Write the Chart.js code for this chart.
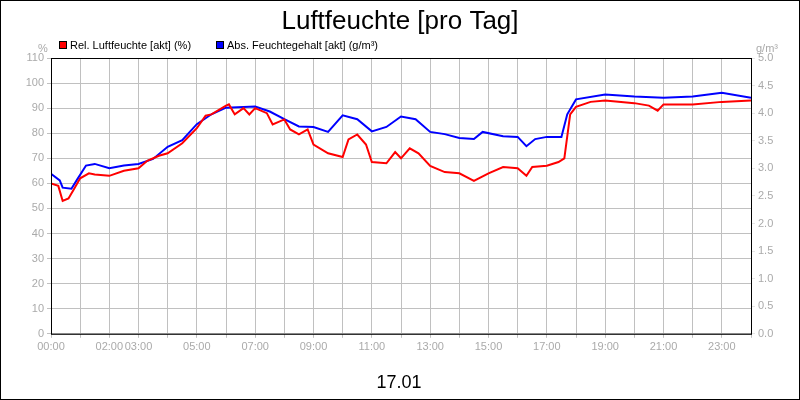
<!DOCTYPE html>
<html><head><meta charset="utf-8">
<script src="https://cdn.jsdelivr.net/npm/chart.js@4/dist/chart.umd.min.js"></script>
<style>body{margin:0;background:#fff}#wrap{width:798px;height:398px;border:1px solid #000;position:relative}</style>
</head><body><div id="wrap"><canvas id="c" width="798" height="398"></canvas></div>
<script>
const relHours = [0,0.25,0.4,0.6,0.8,1,1.3,1.5,2,2.5,3,3.3,3.7,4,4.5,5,5.3,5.5,6,6.1,6.3,6.6,6.8,7,7.4,7.6,8,8.2,8.5,8.8,9,9.5,10,10.2,10.5,10.8,11,11.5,11.8,12,12.3,12.6,13,13.5,14,14.5,15,15.5,16,16.3,16.5,17,17.4,17.6,17.8,18,18.5,19,20,20.5,20.8,21,22,23,24];
const relValues = [60,59,53,54,58,62,64,63.5,63,65,66,69,71,72,76,82,87,87.5,91,91.5,87.5,90,87.5,90,88,83.5,85.5,81.5,79.5,81.5,75.5,72,70.5,77.5,79.5,75.5,68.5,68,72.5,70,74,72,67,64.5,64,61,64,66.5,66,63,66.5,67,68.5,70,87.5,90.5,92.5,93,92,91,89,91.5,91.5,92.5,93];
const absHours = [0,0.3,0.4,0.7,0.9,1.2,1.5,2,2.5,3,3.5,4,4.5,5,5.5,6,7,7.5,8,8.5,9,9.5,10,10.5,11,11.5,12,12.5,13,13.5,14,14.5,14.8,15.5,16,16.3,16.6,17,17.5,17.7,18,19,20,21,22,23,24];
const absValues = [2.9,2.78,2.65,2.63,2.8,3.05,3.08,3.0,3.05,3.08,3.17,3.39,3.51,3.8,3.98,4.1,4.12,4.03,3.89,3.76,3.75,3.66,3.96,3.89,3.67,3.75,3.94,3.89,3.66,3.62,3.55,3.53,3.66,3.58,3.57,3.4,3.53,3.57,3.57,3.98,4.25,4.34,4.3,4.28,4.3,4.37,4.28];
const hourLabels = {0:'00:00',2:'02:00',3:'03:00',5:'05:00',7:'07:00',9:'09:00',11:'11:00',13:'13:00',15:'15:00',17:'17:00',19:'19:00',21:'21:00',23:'23:00'};

const toPts = (xs, ys) => xs.map((x, i) => ({x: x, y: ys[i]}));

const extras = {
    id: 'extras',
    afterDraw(chart) {
        const ctx = chart.ctx;
        ctx.save();
        ctx.fillStyle = '#000';
        ctx.textAlign = 'center';
        ctx.font = '26px "Liberation Sans", Arial';
        ctx.fillText('Luftfeuchte [pro Tag]', 399, 28);
        ctx.font = '18px "Liberation Sans", Arial';
        ctx.fillText('17.01', 398, 387);
        ctx.font = '11px "Liberation Sans", Arial';
        ctx.fillStyle = '#aaa';
        ctx.fillText('%', 42, 51);
        ctx.fillText('g/m³', 766, 51);
        // legend
        ctx.textAlign = 'left';
        const items = [['Rel. Luftfeuchte [akt] (%)', '#ff0000', 58], ['Abs. Feuchtegehalt [akt] (g/m³)', '#0000ff', 215]];
        items.forEach(([t, c, x]) => {
            ctx.fillStyle = c;
            ctx.fillRect(x, 40, 8, 8);
            ctx.strokeStyle = '#000';
            ctx.lineWidth = 1;
            ctx.strokeRect(x + 0.5, 40.5, 7, 7);
            ctx.fillStyle = '#000';
            ctx.fillText(t, x + 11, 48);
        });
        const a = chart.chartArea;
        ctx.strokeStyle = '#000';
        ctx.strokeRect(a.left + 0.5, a.top + 0.5, a.right - a.left, a.bottom - a.top);
        ctx.restore();
    }
};

new Chart(document.getElementById('c'), {
    type: 'line',
    data: {
        datasets: [
            {data: toPts(relHours, relValues), borderColor: '#ff0000', borderWidth: 2, pointRadius: 0, yAxisID: 'y', tension: 0},
            {data: toPts(absHours, absValues), borderColor: '#0000ff', borderWidth: 2, pointRadius: 0, yAxisID: 'y1', tension: 0}
        ]
    },
    options: {
        animation: false,
        responsive: false,
        layout: {padding: {top: 57, left: 0, right: 0, bottom: 42}},
        plugins: {legend: {display: false}, tooltip: {enabled: false}},
        scales: {
            x: {
                type: 'linear', min: 0, max: 24,
                ticks: {stepSize: 1, autoSkip: false, maxRotation: 0, color: '#aaa', font: {size: 11, family: 'Liberation Sans'},
                    callback: (v) => hourLabels[v] || ''},
                grid: {color: '#c0c0c0', tickLength: 4}
            },
            y: {
                position: 'left', min: 0, max: 110,
                afterFit: (s) => { s.width = 50; },
                ticks: {stepSize: 10, color: '#aaa', font: {size: 11, family: 'Liberation Sans'}},
                grid: {color: '#c0c0c0', tickLength: 4}
            },
            y1: {
                position: 'right', min: 0, max: 5,
                afterFit: (s) => { s.width = 48; },
                ticks: {stepSize: 0.5, color: '#aaa', font: {size: 11, family: 'Liberation Sans'}, callback: (v) => v.toFixed(1)},
                grid: {drawOnChartArea: false, tickLength: 4}
            }
        }
    },
    plugins: [extras]
});
</script></body></html>
